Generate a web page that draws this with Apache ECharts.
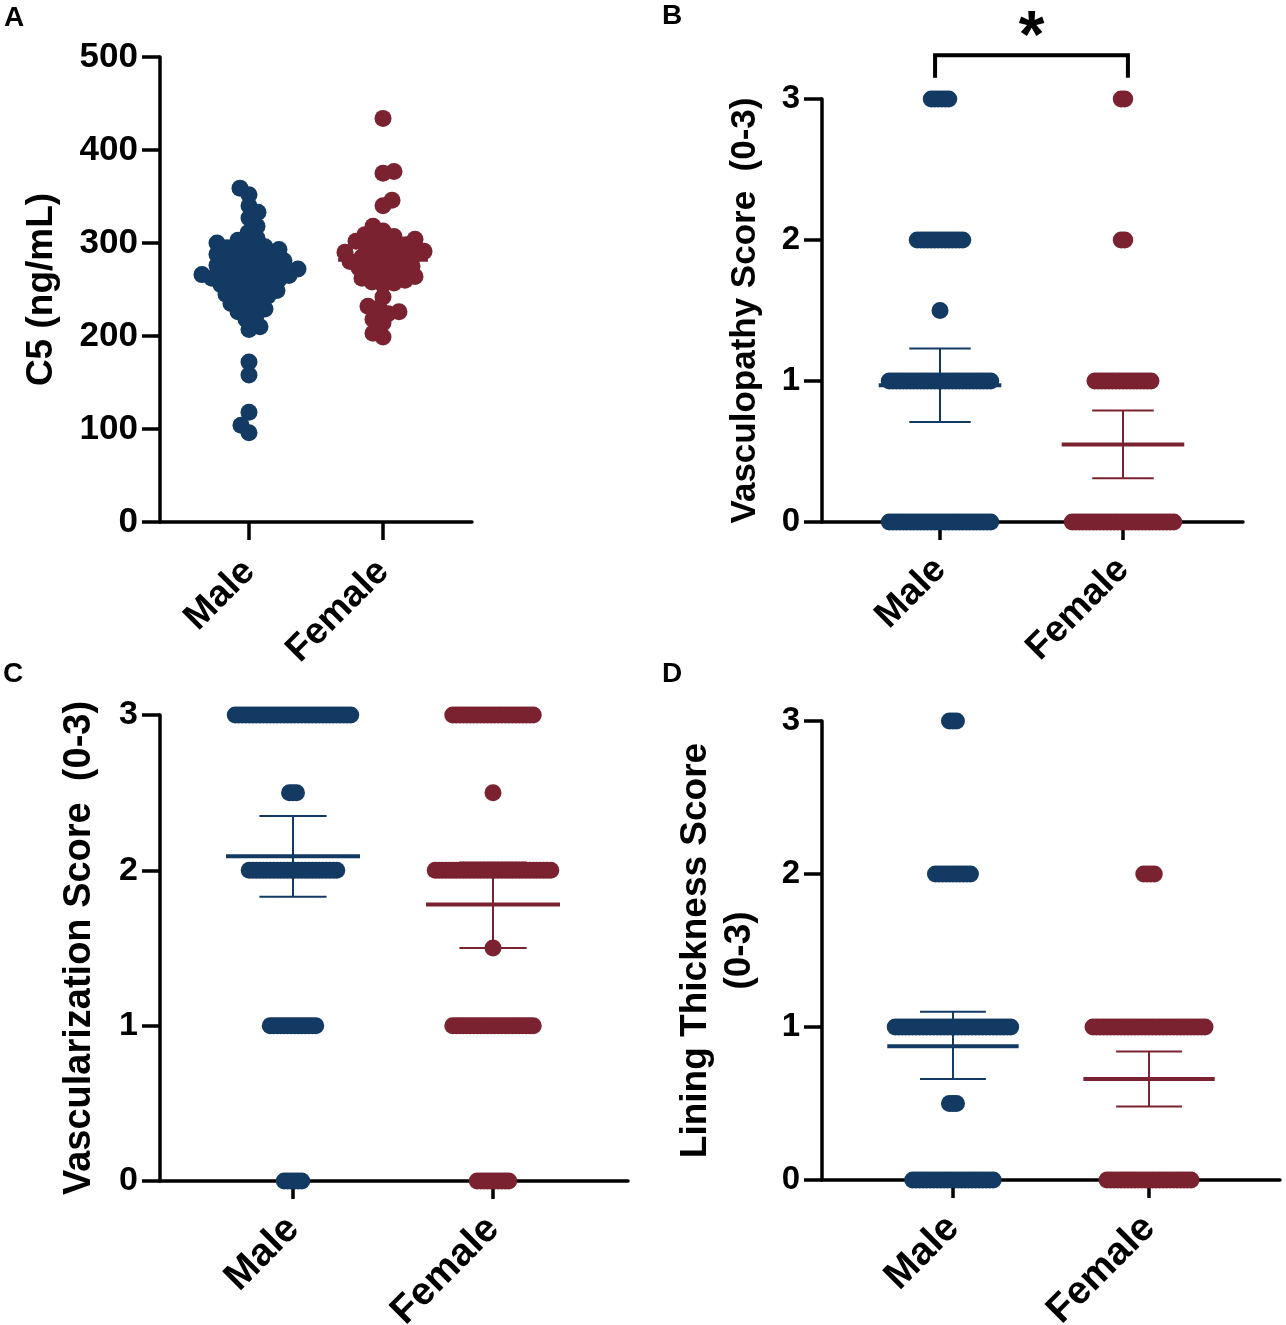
<!DOCTYPE html>
<html><head><meta charset="utf-8">
<script src="https://cdn.jsdelivr.net/npm/echarts@6/dist/echarts.min.js"></script>
<style>html,body{margin:0;padding:0;background:#fff}#c{width:1286px;height:1325px}</style>
</head><body><div id="c"></div>
<script>
// ---------- DATA ----------
const categories = ['Male', 'Female'];

// Panel A: C5 (ng/mL), individual values
const c5Male = [359, 352, 340, 333, 327, 318, 311, 305, 303, 300, 298, 296, 295, 293, 291, 290, 288, 286, 285, 283,
  281, 280, 278, 276, 275, 273, 272, 270, 269, 268, 266, 265, 264, 262, 261, 260, 258, 257, 255, 253,
  251, 249, 247, 245, 243, 240, 238, 235, 232, 229, 226, 222, 218, 210, 207, 172, 158, 118, 104, 96];
const c5Female = [434, 377, 375, 346, 340, 318, 313, 309, 307, 305, 304, 302, 300, 298, 297, 295, 293, 291, 290, 288,
  287, 285, 283, 282, 280, 279, 277, 275, 273, 271, 270, 268, 266, 264, 262, 260, 258, 257, 255, 242,
  232, 230, 226, 224, 218, 214, 203, 199];
const c5Mean = [262, 282];
const c5Low = [256, 276];
const c5High = [268, 288];
const c5Ticks = [0, 100, 200, 300, 400, 500];

// Panel B: Vasculopathy score, counts per score level
const vascLevels = [0, 1, 1.5, 2, 3];
const vascMaleCounts = [30, 30, 1, 14, 6];
const vascFemaleCounts = [30, 17, 0, 2, 2];
const vascMean = [0.97, 0.55];
const vascLow = [0.71, 0.31];
const vascHigh = [1.23, 0.79];

// Panel C: Vascularization score
const vzLevels = [0, 1, 1.5, 2, 2.5, 3];
const vzMaleCounts = [6, 14, 0, 26, 3, 34];
const vzFemaleCounts = [10, 24, 1, 34, 1, 24];
const vzMean = [2.09, 1.78];
const vzLow = [1.83, 1.50];
const vzHigh = [2.35, 2.05];

// Panel D: Lining thickness score
const ltLevels = [0, 0.5, 1, 2, 3];
const ltMaleCounts = [24, 3, 34, 11, 3];
const ltFemaleCounts = [25, 0, 33, 4, 0];
const ltMean = [0.875, 0.66];
const ltLow = [0.66, 0.48];
const ltHigh = [1.10, 0.84];

const scoreTicks = [0, 1, 2, 3];

// ---------- STYLE / LAYOUT ----------
const colors = ['#133a63', '#7b2230'];
const FONT = '"Liberation Sans", Arial, Helvetica, sans-serif';
const DOT = 17;
const ROW_STEP = 3.5;

const panels = [
  { grid: { left: 160, top: 57, width: 312, height: 465 }, xMin: 0.336, xMax: 2.664, yMax: 500, yInt: 100,
    name: 'C5 (ng/mL)', nameGap: 96, nameSize: 37, tickSize: 35, catSize: 37, catMargin: 44 },
  { grid: { left: 822, top: 99, width: 421, height: 423 }, xMin: 0.355, xMax: 2.656, yMax: 3, yInt: 1,
    name: 'Vasculopathy Score  (0-3)', nameGap: 56, nameSize: 35, tickSize: 33, catSize: 37, catMargin: 42 },
  { grid: { left: 160, top: 715, width: 468, height: 466 }, xMin: 0.335, xMax: 2.675, yMax: 3, yInt: 1,
    name: 'Vascularization Score  (0-3)', nameGap: 58, nameSize: 38, tickSize: 34, catSize: 39, catMargin: 42 },
  { grid: { left: 822, top: 721, width: 458, height: 459 }, xMin: 0.332, xMax: 2.668, yMax: 3, yInt: 1,
    name: 'Lining Thickness Score\n(0-3)', nameGap: 60, nameSize: 37, tickSize: 33, catSize: 39, catMargin: 42 }
];

function xppu(p) { return p.grid.width / (p.xMax - p.xMin); }
function yppu(p) { return p.grid.height / p.yMax; }

// beeswarm layout (pixel space) -> x offsets in px
function swarm(values, ypx, minDist, step) {
  const placed = [];
  const out = new Array(values.length);
  const order = values.map((v, i) => i).sort((a, b) => values[a] - values[b]);
  let flip = 1;
  for (const i of order) {
    const y = values[i] * ypx;
    let best = null;
    for (let k = 0; k < 400 && best === null; k++) {
      const cands = k === 0 ? [0] : [flip * k * step, -flip * k * step];
      for (const x of cands) {
        let ok = true;
        for (const p of placed) {
          const dx = p.x - x, dy = p.y - y;
          if (dx * dx + dy * dy < minDist * minDist) { ok = false; break; }
        }
        if (ok) { best = x; break; }
      }
    }
    flip = -flip;
    placed.push({ x: best, y });
    out[i] = best;
  }
  return out;
}

function swarmData(values, cat, p) {
  const offs = swarm(values, yppu(p), 10.5, 1);
  const u = xppu(p);
  return values.map((v, i) => [cat + offs[i] / u, v]);
}

function rowData(levels, counts, cat, p) {
  const u = xppu(p);
  const out = [];
  levels.forEach((lv, j) => {
    const n = counts[j];
    for (let i = 0; i < n; i++) {
      const off = (i - (n - 1) / 2) * ROW_STEP;
      out.push([cat + off / u, lv]);
    }
  });
  return out;
}

function scatter(gi, data, ci) {
  return { type: 'scatter', xAxisIndex: gi, yAxisIndex: gi, data, symbol: 'circle', symbolSize: DOT,
    itemStyle: { color: colors[ci], opacity: 1 }, silent: true, z: 3 };
}

function errSeries(gi, mean, low, high) {
  const halfMean = 0.335, halfCap = 0.168;
  return {
    type: 'custom', xAxisIndex: gi, yAxisIndex: gi, z: 2, silent: true,
    data: mean.map((m, i) => [i + 1, m, low[i], high[i]]),
    renderItem(params, api) {
      const x = api.value(0), m = api.value(1), lo = api.value(2), hi = api.value(3);
      const c = colors[params.dataIndex];
      const seg = (a, b, w) => ({ type: 'line', shape: { x1: a[0], y1: a[1], x2: b[0], y2: b[1] },
        style: { stroke: c, lineWidth: w, fill: null } });
      return { type: 'group', children: [
        seg(api.coord([x, lo]), api.coord([x, hi]), 2),
        seg(api.coord([x - halfCap, lo]), api.coord([x + halfCap, lo]), 2),
        seg(api.coord([x - halfCap, hi]), api.coord([x + halfCap, hi]), 2),
        seg(api.coord([x - halfMean, m]), api.coord([x + halfMean, m]), 4)
      ] };
    }
  };
}

const grids = panels.map(p => Object.assign({ containLabel: false, outerBoundsMode: 'none' }, p.grid));
const xAxes = panels.map((p, gi) => ({
  type: 'value', gridIndex: gi, min: p.xMin, max: p.xMax,
  splitLine: { show: false },
  axisLine: { show: true, onZero: false, lineStyle: { color: '#000', width: 3.5 } },
  axisTick: { show: true, customValues: [1, 2], length: 18, lineStyle: { color: '#000', width: 3.5 } },
  axisLabel: { show: true, customValues: [1, 2], rotate: 45, margin: p.catMargin,
    formatter: v => categories[Math.round(v) - 1] || '',
    color: '#000', fontSize: p.catSize, fontWeight: 'bold', fontFamily: FONT }
}));
const yAxes = panels.map((p, gi) => ({
  type: 'value', gridIndex: gi, min: 0, max: p.yMax, interval: p.yInt,
  splitLine: { show: false },
  axisLine: { show: true, onZero: false, lineStyle: { color: '#000', width: 3.5 } },
  axisTick: { show: true, length: 18, lineStyle: { color: '#000', width: 3.5 } },
  axisLabel: { margin: 22, color: '#000', fontSize: p.tickSize, fontWeight: 'bold', fontFamily: FONT },
  name: p.name, nameLocation: 'middle', nameRotate: 90, nameGap: p.nameGap,
  nameTextStyle: { color: '#000', fontSize: p.nameSize, fontWeight: 'bold', fontFamily: FONT, lineHeight: p.nameSize * 1.2 }
}));

const series = [
  scatter(0, swarmData(c5Male, 1, panels[0]), 0),
  scatter(0, swarmData(c5Female, 2, panels[0]), 1),
  errSeries(0, c5Mean, c5Low, c5High),
  scatter(1, rowData(vascLevels, vascMaleCounts, 1, panels[1]), 0),
  scatter(1, rowData(vascLevels, vascFemaleCounts, 2, panels[1]), 1),
  errSeries(1, vascMean, vascLow, vascHigh),
  scatter(2, rowData(vzLevels, vzMaleCounts, 1, panels[2]), 0),
  scatter(2, rowData(vzLevels, vzFemaleCounts, 2, panels[2]), 1),
  errSeries(2, vzMean, vzLow, vzHigh),
  scatter(3, rowData(ltLevels, ltMaleCounts, 1, panels[3]), 0),
  scatter(3, rowData(ltLevels, ltFemaleCounts, 2, panels[3]), 1),
  errSeries(3, ltMean, ltLow, ltHigh),
  // significance bracket for panel B
  {
    type: 'custom', xAxisIndex: 1, yAxisIndex: 1, silent: true, clip: false, z: 6,
    data: [[0.973, 2.027, 3.15, 3.31, 3.43]],
    renderItem(params, api) {
      const x1 = api.value(0), x2 = api.value(1), yb = api.value(2), yt = api.value(3), ys = api.value(4);
      const a = api.coord([x1, yb]), b = api.coord([x1, yt]), c = api.coord([x2, yt]), d = api.coord([x2, yb]);
      const s = api.coord([(x1 + x2) / 2, ys]);
      return { type: 'group', children: [
        { type: 'polyline', shape: { points: [a, b, c, d] }, style: { stroke: '#000', lineWidth: 4, fill: null, lineJoin: 'miter' } },
        { type: 'text', x: s[0], y: s[1], style: { text: '*', fontSize: 66, fontWeight: 'bold', fontFamily: FONT,
          fill: '#000', align: 'center', verticalAlign: 'middle' } }
      ] };
    }
  }
];

const letterStyle = { fontSize: 28, fontWeight: 'bold', fontFamily: FONT, fill: '#000' };
const graphic = [
  { type: 'text', left: 4, top: 4, style: Object.assign({ text: 'A' }, letterStyle) },
  { type: 'text', left: 662, top: 2, style: Object.assign({ text: 'B' }, letterStyle) },
  { type: 'text', left: 3, top: 660, style: Object.assign({ text: 'C' }, letterStyle) },
  { type: 'text', left: 662, top: 660, style: Object.assign({ text: 'D' }, letterStyle) }
];

const chart = echarts.init(document.getElementById('c'), null, { renderer: 'canvas' });
chart.setOption({
  backgroundColor: '#fff',
  animation: false,
  grid: grids, xAxis: xAxes, yAxis: yAxes, series, graphic
});
</script></body></html>
